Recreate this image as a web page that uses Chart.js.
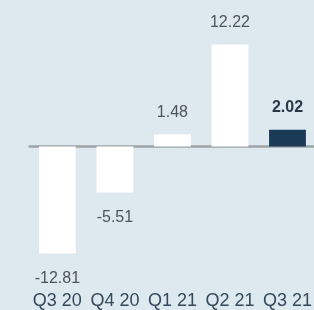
<!DOCTYPE html>
<html>
<head>
<meta charset="utf-8">
<script src="https://cdn.jsdelivr.net/npm/chart.js@4/dist/chart.umd.min.js"></script>
<style>
  html, body { margin: 0; padding: 0; background: #dde9ef; overflow: hidden; }
  #wrap { position: relative; width: 318px; height: 310px; }
</style>
</head>
<body>
<div id="wrap"><canvas id="c" width="318" height="310"></canvas></div>
<script>
const categories = ["Q3 20", "Q4 20", "Q1 21", "Q2 21", "Q3 21"];
const values = [-12.81, -5.51, 1.48, 12.22, 2.02];
const valueLabels = ["-12.81", "-5.51", "1.48", "12.22", "2.02"];
const highlightIndex = 4;

const barColors = values.map((v, i) => i === highlightIndex ? "#1b3a57" : "#ffffff");

const zeroLinePlugin = {
  id: "zeroLine",
  beforeDatasetsDraw(chart) {
    const { ctx, chartArea, scales } = chart;
    const y0 = scales.y.getPixelForValue(0);
    ctx.save();
    ctx.strokeStyle = "#9ea3a7";
    ctx.lineWidth = 2.5;
    ctx.beginPath();
    ctx.moveTo(chartArea.left, y0);
    ctx.lineTo(chartArea.right, y0);
    ctx.stroke();
    ctx.restore();
  }
};

const valueLabelPlugin = {
  id: "valueLabels",
  afterDatasetsDraw(chart) {
    const { ctx } = chart;
    const meta = chart.getDatasetMeta(0);
    ctx.save();
    ctx.textAlign = "center";
    ctx.textBaseline = "middle";
    meta.data.forEach((bar, i) => {
      const v = values[i];
      const bold = i === highlightIndex;
      ctx.font = (bold ? "bold " : "") + "16px 'Liberation Sans', Arial, sans-serif";
      ctx.fillStyle = bold ? "#2a3744" : "#4e5459";
      const y = v >= 0 ? bar.y - 22 : bar.y + 25;
      ctx.fillText(valueLabels[i], bar.x, y);
    });
    ctx.restore();
  }
};

new Chart(document.getElementById("c"), {
  type: "bar",
  data: {
    labels: categories,
    datasets: [{
      data: values,
      backgroundColor: barColors,
      borderWidth: 0,
      barPercentage: 0.64,
      categoryPercentage: 1.0
    }]
  },
  options: {
    responsive: false,
    animation: false,
    devicePixelRatio: 1,
    layout: { padding: { left: 28.6, right: 0, top: 13, bottom: 0 } },
    plugins: { legend: { display: false }, tooltip: { enabled: false } },
    scales: {
      x: {
        grid: { display: false },
        border: { display: false },
        afterFit(scale) { scale.height = 33.6; },
        ticks: {
          color: "#34495b",
          font: { family: "'Liberation Sans', Arial, sans-serif", size: 18 },
          padding: 6,
          maxRotation: 0,
          autoSkip: false
        }
      },
      y: {
        display: false,
        min: -15.55,
        max: 16
      }
    }
  },
  plugins: [zeroLinePlugin, valueLabelPlugin]
});
</script>
</body>
</html>
